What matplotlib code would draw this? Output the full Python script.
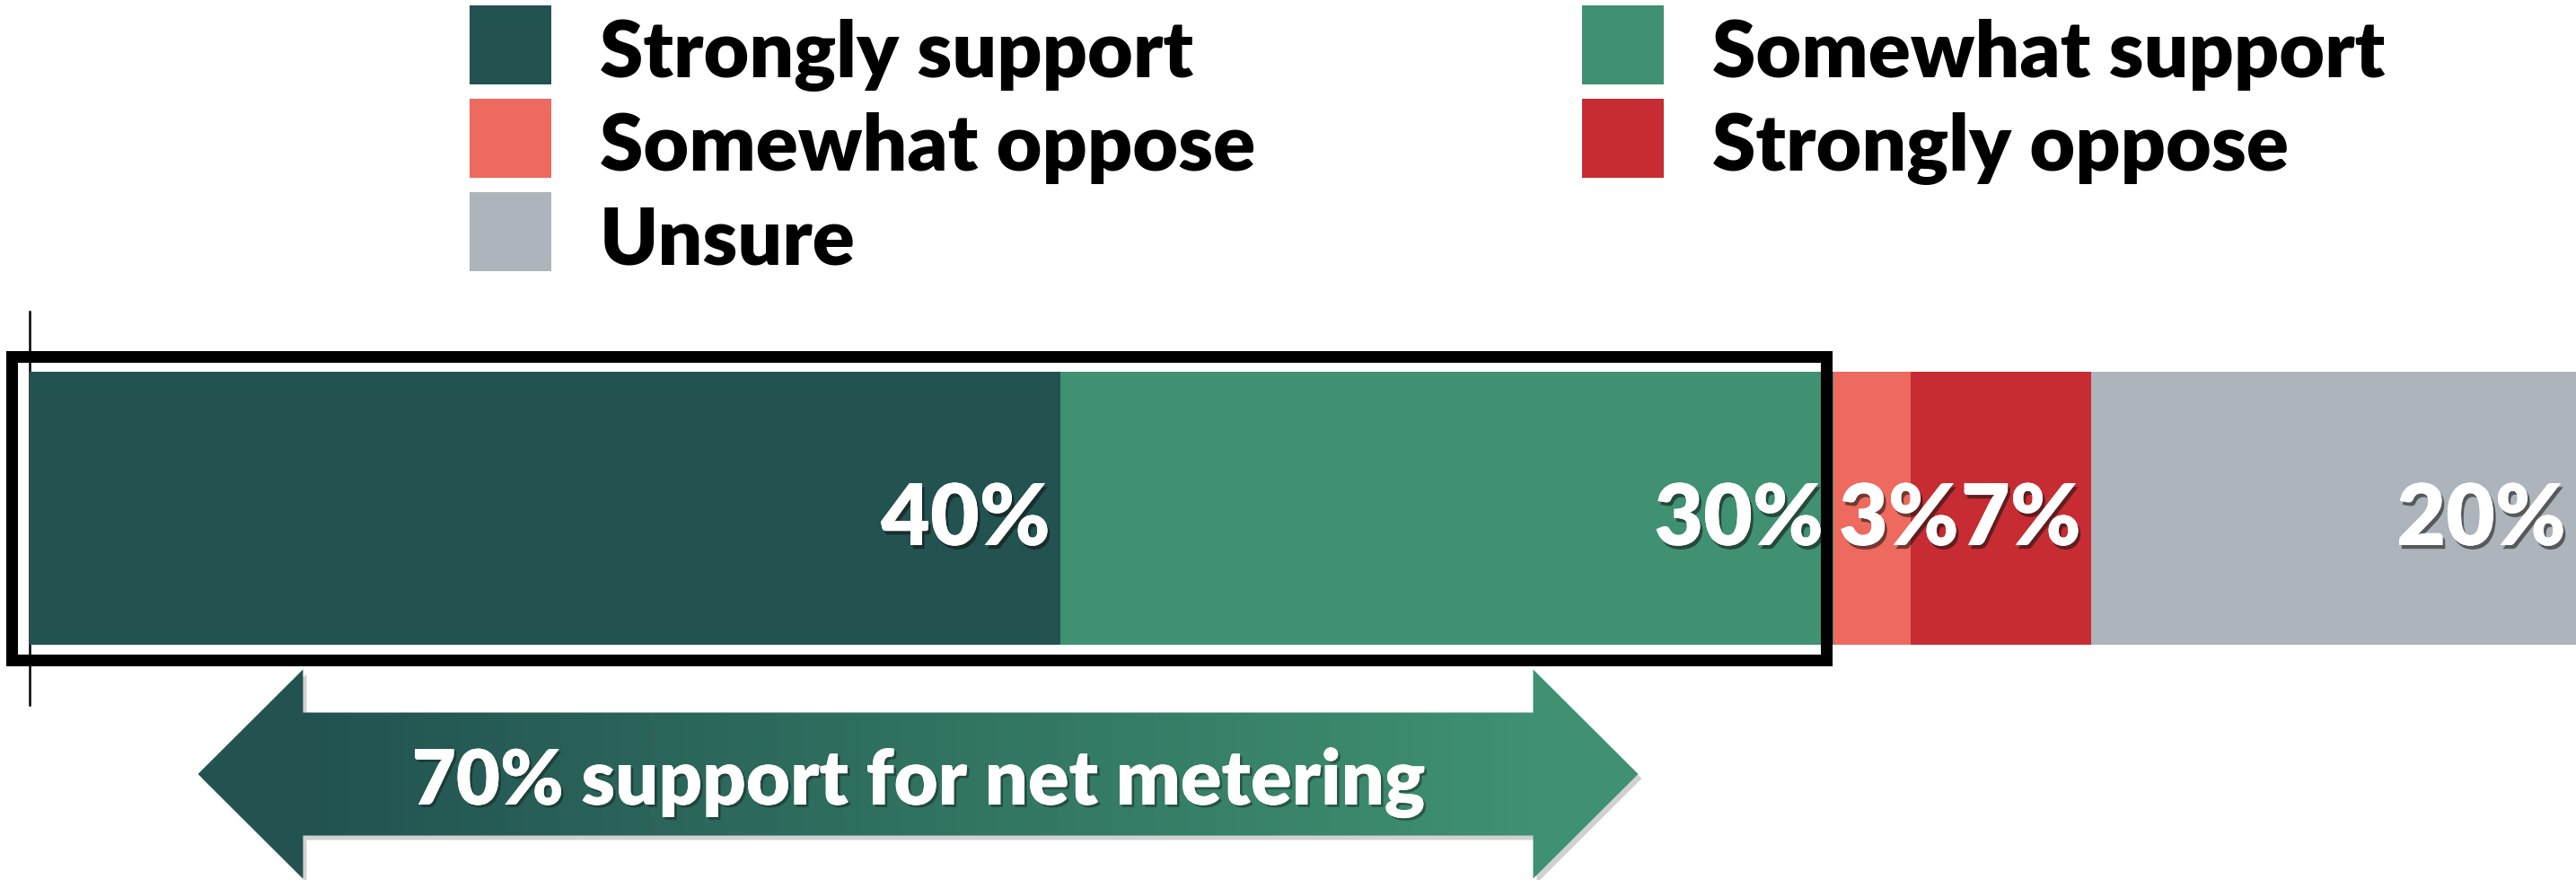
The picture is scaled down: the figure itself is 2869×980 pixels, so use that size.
import numpy as np
import matplotlib
matplotlib.use("Agg")
import matplotlib.pyplot as plt
import matplotlib.patheffects as pe
from matplotlib.patches import Rectangle, Polygon
from matplotlib.colors import LinearSegmentedColormap

# survey answers, share of respondents (%)
categories = ["Strongly support", "Somewhat support", "Somewhat oppose",
              "Strongly oppose", "Unsure"]
shares = [40, 30, 3, 7, 20]
labels = ["40%", "30%", "3%", "7%", "20%"]
colors = ["#225351", "#3f9171", "#ee695e", "#c62c32", "#aeb4bb"]
support_text = "70% support for net metering"

W, H = 2869, 980
plt.rcParams["font.family"] = ["Lato", "DejaVu Sans"]

fig = plt.figure(figsize=(W / 100, H / 100), dpi=100)
fig.patch.set_facecolor("white")

# plot area: 347..785 px from top, bar starts at x=33 px
ax_top, ax_bot, ax_left = 347, 785, 33
px_per_pct = 28.7
ax = fig.add_axes([ax_left / W, (H - ax_bot) / H, (W - ax_left) / W, (ax_bot - ax_top) / H])
xmax = (W - ax_left) / px_per_pct
ax.set_xlim(0, xmax)
ax.set_ylim(-0.5, 0.5)

def ypx(y):   # pixel row (from top) -> data y
    return ((ax_top + ax_bot) / 2 - y) / (ax_bot - ax_top)

def xpx(d):   # pixel distance -> data x distance
    return d / px_per_pct

lefts = np.concatenate([[0], np.cumsum(shares)[:-1]])
ax.barh(0, shares, left=lefts, height=304 / 438, color=colors, zorder=2)

shadow = [pe.withSimplePatchShadow(offset=(2, -3), shadow_rgbFace="#111111", alpha=0.55),
          pe.Normal()]
for left, val, lab in zip(lefts, shares, labels):
    end = min(left + val, xmax)
    if val >= 5:
        x, ha = end - xpx(11), "right"
    else:   # too narrow: pushed to the start of its segment
        x, ha = left + xpx(6), "left"
    ax.text(x, ypx(607), lab, ha=ha, va="baseline", color="white",
            fontsize=68, fontweight="heavy", zorder=5, path_effects=shadow)

for s in ["top", "right", "bottom"]:
    ax.spines[s].set_visible(False)
ax.spines["left"].set_linewidth(1.8)
ax.spines["left"].set_zorder(1)
ax.set_xticks([])
ax.set_yticks([])
ax.patch.set_visible(False)

# frame around the support share
support = shares[0] + shares[1]
bx0, bx1 = -xpx(20.5), support - xpx(7.5)
by0, by1 = ypx(735), ypx(396.5)
ax.add_patch(Rectangle((bx0, by0), bx1 - bx0, by1 - by0, fill=False,
                       edgecolor="black", linewidth=9.4, clip_on=False, zorder=4))

# double arrow under the support part
cx = support / 2 - xpx(15)
half_len, head_len = xpx(802), xpx(117)
yc = ypx(862)
head_h, shaft_h = (ypx(745) - ypx(978)) / 2, (ypx(793) - ypx(930)) / 2
xl, xr = cx - half_len, cx + half_len
pts = [(xl, yc), (xl + head_len, yc + head_h), (xl + head_len, yc + shaft_h),
       (xr - head_len, yc + shaft_h), (xr - head_len, yc + head_h), (xr, yc),
       (xr - head_len, yc - head_h), (xr - head_len, yc - shaft_h),
       (xl + head_len, yc - shaft_h), (xl + head_len, yc - head_h)]
sh = [(x + xpx(4), y - (ypx(0) - ypx(5))) for x, y in pts]
ax.add_patch(Polygon(sh, closed=True, facecolor="black", alpha=0.18,
                     edgecolor="none", clip_on=False, zorder=2))
arrow = Polygon(pts, closed=True, facecolor="none", edgecolor="none",
                transform=ax.transData)
ax.add_patch(arrow)
gx = np.linspace(xl, xr, 512)
grad = np.clip((gx - (xl + head_len)) / (xr - xl - 2 * head_len), 0, 1).reshape(1, -1)
cmap = LinearSegmentedColormap.from_list("arr", [colors[0], colors[1]])
im = ax.imshow(grad, cmap=cmap, extent=[xl, xr, yc - head_h, yc + head_h],
               aspect="auto", zorder=3, interpolation="bilinear")
im.set_clip_box(fig.bbox)
im.set_clip_path(arrow)
ax.text(cx + xpx(1), ypx(896), support_text, ha="center", va="baseline",
        color="white", fontsize=61, fontweight="heavy", zorder=6,
        path_effects=[pe.withSimplePatchShadow(offset=(2, -2), shadow_rgbFace="#111111", alpha=0.4),
                      pe.Normal()])
ax.set_xlim(0, xmax)
ax.set_ylim(-0.5, 0.5)

# legend, two columns laid out row by row
ov = fig.add_axes([0, 0, 1, 1], zorder=-1)
ov.set_xlim(0, W)
ov.set_ylim(H, 0)
ov.axis("off")
col_x = [523, 1762]
row_y = [6, 110, 214]
for i, (cat, col) in enumerate(zip(categories, colors)):
    r, c = divmod(i, 2)
    ov.add_patch(Rectangle((col_x[c], row_y[r]), 91, 88, facecolor=col, edgecolor="none"))
    ov.text(col_x[c] + 145, row_y[r] + 80, cat, ha="left", va="baseline",
            fontsize=63, fontweight="heavy", color="black")

fig.savefig("out.png", dpi=100, facecolor="white")
